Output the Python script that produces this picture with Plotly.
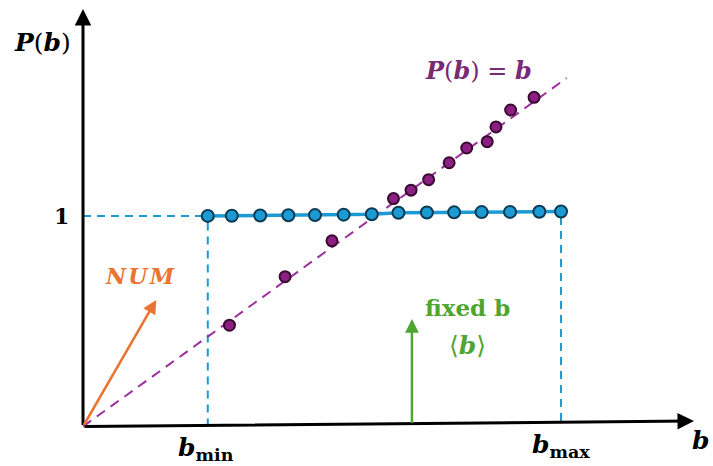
import plotly.graph_objects as go

# Uniform distribution P(b) ~ 1 on [b_min, b_max]
blue_b = [0.426, 0.508, 0.605, 0.701, 0.792, 0.890, 0.986, 1.077, 1.174, 1.267, 1.361, 1.458, 1.558, 1.632]
blue_p = [0.998, 0.999, 1.000, 1.001, 1.002, 1.004, 1.006, 1.013, 1.014, 1.015, 1.016, 1.017, 1.018, 1.019]

# Samples following P(b) = b
purple_b = [0.50, 0.69, 0.85, 1.06, 1.12, 1.18, 1.25, 1.31, 1.38, 1.41, 1.46, 1.54]
purple_p = [0.48, 0.71, 0.88, 1.08, 1.12, 1.17, 1.25, 1.32, 1.35, 1.42, 1.50, 1.56]

# Reference line P(b) = b
line_b = [0.0, 1.651]

b_min, b_max = 0.426, 1.632
fixed_b = 1.123

BLUE = "#1c9ad3"
BLUE_EDGE = "#0b3b52"
PURPLE_LINE = "#9b2f9b"
PURPLE = "#8c1f82"
PURPLE_EDGE = "#3a0a33"
PURPLE_TEXT = "#7a2a74"
ORANGE = "#ea7431"
GREEN = "#4ea52f"
FONT = "DejaVu Serif"

fig = go.Figure()

# Dashed guide lines
fig.add_trace(go.Scatter(x=[0, b_min], y=[blue_p[0], blue_p[0]], mode="lines",
                         line=dict(color=BLUE, width=2, dash="8px,6px"), hoverinfo="skip"))
fig.add_trace(go.Scatter(x=[b_min, b_min], y=[0, blue_p[0]], mode="lines",
                         line=dict(color=BLUE, width=2, dash="8px,6px"), hoverinfo="skip"))
fig.add_trace(go.Scatter(x=[b_max, b_max], y=[0.026, blue_p[-1]], mode="lines",
                         line=dict(color=BLUE, width=2, dash="8px,6px"), hoverinfo="skip"))
fig.add_trace(go.Scatter(x=line_b, y=line_b, mode="lines",
                         line=dict(color=PURPLE_LINE, width=2, dash="10px,7px"), hoverinfo="skip"))

# Uniform samples
fig.add_trace(go.Scatter(x=blue_b, y=blue_p, mode="lines+markers",
                         line=dict(color=BLUE, width=3.5),
                         marker=dict(size=12, color=BLUE, line=dict(color=BLUE_EDGE, width=2))))
# P(b) = b samples
fig.add_trace(go.Scatter(x=purple_b, y=purple_p, mode="markers",
                         marker=dict(size=11, color=PURPLE, line=dict(color=PURPLE_EDGE, width=2))))

def arrow(x0, y0, x1, y1, color, width=3, size=1.0):
    fig.add_annotation(x=x1, y=y1, ax=x0, ay=y0, xref="x", yref="y", axref="x", ayref="y",
                       text="", showarrow=True, arrowhead=2, arrowsize=size,
                       arrowwidth=width, arrowcolor=color, standoff=0, startstandoff=0)

# Axes
arrow(0, 0, 0, 1.979, "black", 3, 1.1)
arrow(0, 0, 2.086, 0.026, "black", 3, 1.1)
# NUM arrow and fixed-b arrow
arrow(0, 0, 0.25, 0.60, ORANGE, 2.5, 1.1)
arrow(fixed_b, 0.01, fixed_b, 0.51, GREEN, 2.5, 1.1)

def label(x, y, text, color, size, xanchor="center"):
    fig.add_annotation(x=x, y=y, xref="x", yref="y", text=text, showarrow=False,
                       xanchor=xanchor, yanchor="middle",
                       font=dict(family=FONT, size=size, color=color))

label(-0.140, 1.818, "<b><i>P</i></b>(<b><i>b</i></b>)", "black", 25)
label(-0.072, 1.0, "<b>1</b>", "black", 22)
label(1.349, 1.685, "<b><i>P</i></b>(<b><i>b</i></b>) = <b><i>b</i></b>", PURPLE_TEXT, 24)
label(0.195, 0.713, "<b><i>N\u200aU\u200aM</i></b>", ORANGE, 22)
label(1.311, 0.566, "<b>fixed b</b>", GREEN, 23)
label(1.311, 0.386, "⟨<b><i>b</i></b>⟩", GREEN, 25)
label(0.42, -0.107, "<b><i>b</i><sub>min</sub></b>", "black", 25)
label(1.632, -0.092, "<b><i>b</i><sub>max</sub></b>", "black", 25)
label(2.144, -0.064, "<b><i>b</i></b>", "black", 25, xanchor="right")

fig.update_layout(
    width=713, height=466,
    margin=dict(l=0, r=0, t=0, b=0),
    paper_bgcolor="white", plot_bgcolor="white",
    showlegend=False,
    xaxis=dict(range=[-0.2834, 2.1509], visible=False, fixedrange=True),
    yaxis=dict(range=[-0.1872, 2.0213], visible=False, fixedrange=True),
)

fig.write_html("out.html")
